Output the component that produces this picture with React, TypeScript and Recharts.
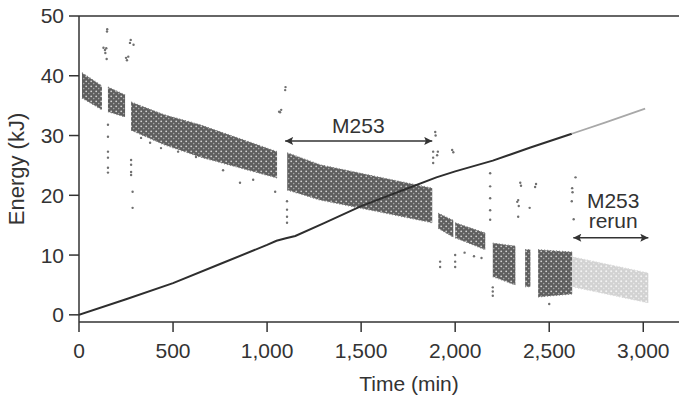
import React from 'react';
import {
  ComposedChart, Area, Line, Scatter, XAxis, YAxis, ReferenceLine, ReferenceDot,
} from 'recharts';

// x axis ticks (min) and y axis ticks (kJ)
const timeTicks = [0, 500, 1000, 1500, 2000, 2500, 3000];
const energyTicks = [0, 10, 20, 30, 40, 50];

// cumulative line
const lineTime = [0, 250, 500, 750, 1000, 1050, 1100, 1150, 1300, 1500, 1700, 1900, 2000, 2200, 2400, 2620];
const lineEnergy = [0, 2.6, 5.3, 8.5, 11.7, 12.4, 12.8, 13.2, 15.3, 18.2, 20.6, 23.0, 24.0, 25.8, 28.0, 30.3];
const rerunLineTime = [2620, 2800, 3010];
const rerunLineEnergy = [30.3, 32.2, 34.5];

// dense bands of per-run energy: edges of each segment
const bandTimes = [
  [16, 122],
  [154, 245],
  [277, 450, 644, 1053],
  [1107, 1282, 1600, 1878],
  [1910, 1990],
  [2000, 2160],
  [2200, 2320],
  [2372, 2400],
  [2441, 2622],
];
const bandLow = [
  [36.3, 34.3],
  [34.0, 33.1],
  [30.9, 28.5, 26.4, 22.9],
  [20.9, 19.2, 17.2, 15.4],
  [14.5, 13.0],
  [12.9, 10.9],
  [6.4, 5.0],
  [4.7, 4.7],
  [3.0, 3.5],
];
const bandHigh = [
  [40.5, 38.3],
  [38.1, 36.8],
  [35.6, 33.5, 31.8, 27.3],
  [27.1, 25.1, 23.0, 21.2],
  [17.0, 15.8],
  [15.4, 13.7],
  [12.0, 11.5],
  [10.9, 10.9],
  [10.9, 10.5],
];
const rerunBandTime = [2622, 3027];
const rerunBandLow = [4.7, 2.0];
const rerunBandHigh = [9.7, 7.0];

// stray points
const strayTime = [
  130, 138, 145, 140, 149, 150, 147, 255, 262, 250, 271, 275, 290,
  1069, 1075, 1064, 1096, 1098, 1894, 1896, 1904, 1908, 1984, 1990,
  2346, 2350, 2425, 2430, 2330, 2338, 2622, 2624, 2620,
  154, 154, 154, 154, 154, 154, 277, 277, 277, 277, 285, 285,
  330, 378, 436, 527, 622, 766, 856, 926, 1043,
  1106, 1106, 1106, 1106, 1883, 1883, 1883,
  1920, 1920, 2000, 2000, 2000, 2186, 2186, 2186, 2186, 2186,
  2200, 2200, 2200, 2335, 2335, 2396, 2050, 2100, 2140, 2640, 2630, 2500,
];
const strayEnergy = [
  44.7, 44.3, 44.6, 43.8, 47.4, 47.8, 42.8, 42.6, 43.2, 43.0, 45.5, 46.0, 45.2,
  33.9, 34.3, 34.0, 37.6, 38.1, 30.6, 30.0, 26.7, 27.3, 27.6, 27.2,
  22.1, 21.6, 21.4, 21.9, 18.9, 18.2, 21.2, 20.5, 19.0,
  31.8, 29.8, 27.3, 26.3, 24.6, 23.8, 25.9, 25.1, 23.9, 23.4, 20.6, 17.9,
  29.6, 28.8, 27.9, 27.3, 26.4, 24.2, 22.1, 22.6, 20.6,
  17.6, 16.4, 15.4, 19.0, 27.3, 26.3, 25.4,
  8.9, 8.0, 10.0, 8.9, 8.0, 23.7, 21.5, 19.5, 17.5, 15.9,
  4.6, 3.9, 3.2, 19.2, 16.4, 17.9, 10.4, 9.8, 9.5, 23.0, 16.0, 1.8,
];

const font = '"Liberation Sans", Arial, sans-serif';
const ink = '#333';

const lineData = lineTime.map((t, i) => ({ t, e: lineEnergy[i] }));
const rerunLineData = rerunLineTime.map((t, i) => ({ t, e: rerunLineEnergy[i] }));
const bandData = bandTimes.map((ts, s) => ts.map((t, i) => ({ t, range: [bandLow[s][i], bandHigh[s][i]] })));
const rerunBandData = rerunBandTime.map((t, i) => ({ t, range: [rerunBandLow[i], rerunBandHigh[i]] }));
const strayData = strayTime.map((t, i) => ({ t, e: strayEnergy[i] }));

const fmt = (v: number) => v.toLocaleString('en-US');

export default function App() {
  return (
    <div style={{ position: 'absolute', left: 0, top: 0, background: '#fff' }}>
      <ComposedChart width={679} height={397} margin={{ top: 16, right: 0, bottom: 0, left: 0 }}>
        <defs>
          <pattern id="speck" width="5" height="5" patternUnits="userSpaceOnUse">
            <rect width="5" height="5" fill="#5e5e5e" />
            <circle cx="1.2" cy="1.3" r="0.9" fill="#d4d4d4" />
            <circle cx="3.7" cy="3.6" r="0.8" fill="#a8a8a8" />
          </pattern>
          <pattern id="speckLight" width="5" height="5" patternUnits="userSpaceOnUse">
            <rect width="5" height="5" fill="#d2d2d2" />
            <circle cx="1.2" cy="1.3" r="1" fill="#f4f4f4" />
            <circle cx="3.7" cy="3.6" r="0.8" fill="#e8e8e8" />
          </pattern>
          <marker id="arrowHead" viewBox="0 0 10 10" refX="10" refY="5" markerUnits="userSpaceOnUse"
            markerWidth="16" markerHeight="8" orient="auto-start-reverse">
            <path d="M0,0 L10,5 L0,10 L2,5 z" fill={ink} />
          </marker>
        </defs>
        <XAxis
          type="number" dataKey="t" domain={[0, 3190]} ticks={timeTicks} allowDataOverflow
          tickFormatter={fmt} height={75} tickSize={10} tickMargin={11}
          stroke={ink} strokeWidth={1.5}
          tick={{ fontSize: 21, fill: ink, fontFamily: font }}
          label={{
            content: (p: any) => (
              <text x={p.viewBox.x + p.viewBox.width / 2 + 30} y={p.viewBox.y + 61} textAnchor="middle"
                dominantBaseline="central" fontSize={21} fill={ink} fontFamily={font}>Time (min)</text>
            ),
          }}
        />
        <YAxis
          type="number" domain={[-1.2, 50]} ticks={energyTicks} allowDataOverflow
          width={79} tickSize={10} tickMargin={5}
          stroke={ink} strokeWidth={1.5}
          tick={{ fontSize: 21, fill: ink, fontFamily: font }}
          label={{
            content: (p: any) => {
              const x = p.viewBox.x + 16;
              const y = p.viewBox.y + p.viewBox.height / 2;
              return (
                <text x={x} y={y} transform={`rotate(-90 ${x} ${y})`} textAnchor="middle"
                  dominantBaseline="central" fontSize={22} fill={ink} fontFamily={font}>Energy (kJ)</text>
              );
            },
          }}
        />
        <ReferenceLine y={50} stroke={ink} strokeWidth={1.5} />

        {bandData.map((d, i) => (
          <Area key={i} data={d} dataKey="range" type="linear" fill="url(#speck)" fillOpacity={1}
            stroke="#7a7a7a" strokeWidth={1.2} strokeDasharray="1 2" isAnimationActive={false} />
        ))}
        <Area data={rerunBandData} dataKey="range" type="linear" fill="url(#speckLight)" fillOpacity={1}
          stroke="#dadada" strokeWidth={1.2} strokeDasharray="1 2" isAnimationActive={false} />

        <Scatter data={strayData} dataKey="e" isAnimationActive={false}
          shape={(p: any) => <circle cx={p.cx} cy={p.cy} r={1.2} fill="#707070" />} />

        <Line data={lineData} dataKey="e" type="linear" stroke="#2e2e2e" strokeWidth={2} dot={false}
          isAnimationActive={false} />
        <Line data={rerunLineData} dataKey="e" type="linear" stroke="#a8a8a8" strokeWidth={1.8} dot={false}
          isAnimationActive={false} />

        <ReferenceLine segment={[{ x: 1096, y: 29.1 }, { x: 1878, y: 29.1 }]} stroke={ink} strokeWidth={1.5}
          markerStart="url(#arrowHead)" markerEnd="url(#arrowHead)" />
        <ReferenceLine segment={[{ x: 2628, y: 12.9 }, { x: 3027, y: 12.9 }]} stroke={ink} strokeWidth={1.5}
          markerStart="url(#arrowHead)" markerEnd="url(#arrowHead)" />

        <ReferenceDot x={1485} y={31.6} r={1} fill="none" stroke="none"
          label={{ value: 'M253', position: 'center', fontSize: 21, fill: ink, fontFamily: font }} />
        <ReferenceDot x={2840} y={19.2} r={1} fill="none" stroke="none"
          label={{ value: 'M253', position: 'center', fontSize: 21, fill: ink, fontFamily: font }} />
        <ReferenceDot x={2840} y={15.7} r={1} fill="none" stroke="none"
          label={{ value: 'rerun', position: 'center', fontSize: 21, fill: ink, fontFamily: font }} />
      </ComposedChart>
    </div>
  );
}
